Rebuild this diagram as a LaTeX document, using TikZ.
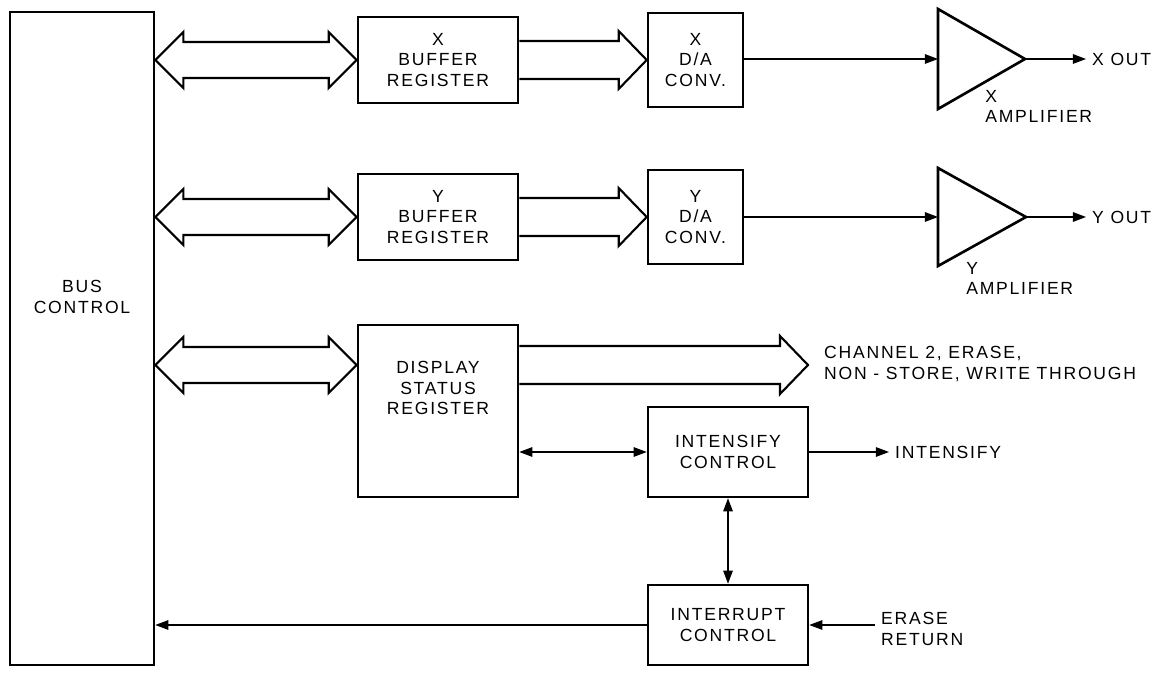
\documentclass[tikz,border=0pt]{standalone}
\usepackage{fontspec}
\setmainfont{Liberation Sans}[LetterSpace=10]
\usetikzlibrary{arrows.meta,calc}

% wide bus arrow with two heads, tip to tip
\newcommand{\dbus}[2]{%
  \draw[bus] (#1) -- ++(28,-28) -- ++(0,10) -- ($(#2)+(-28,-18)$) -- ++(0,-10)
    -- (#2) -- ++(-28,28) -- ++(0,-10) -- ($(#1)+(28,18)$) -- ++(0,10) -- cycle;}
% wide bus arrow with one head
\newcommand{\sbus}[2]{%
  \draw[bus] ($(#1)+(0,-19)$) -- ($(#2)+(-28,-19)$) -- ++(0,-10) -- (#2)
    -- ++(-28,29) -- ++(0,-10) -- ($(#1)+(0,19)$);}

\begin{document}
\begin{tikzpicture}[x=0.02cm, y=-0.02cm,
  every node/.style={font=\fontsize{10}{11.5}\selectfont, align=center},
  box/.style={draw, line width=1.5pt, inner sep=0pt},
  bus/.style={line width=1.2pt, line join=miter},
  sig/.style={line width=0.6pt, -{Triangle[length=7.5pt,width=5.5pt]}},
  sig2/.style={line width=0.6pt, {Triangle[length=7.5pt,width=5.5pt]}-{Triangle[length=7.5pt,width=5.5pt]}}]
\useasboundingbox (0,0) rectangle (1159,675);

% blocks
\node[box, minimum width=2.88cm, minimum height=13.06cm] (bus) at (82,338.5) {};
\node (buslbl) at (82,297) {BUS\\CONTROL};
\node[box, minimum width=3.2cm, minimum height=1.72cm] (xbuf) at (438,60) {X\\BUFFER\\REGISTER};
\node[box, minimum width=1.9cm, minimum height=1.88cm] (xda) at (695.5,60) {X\\D/A\\CONV.};
\node[box, minimum width=3.2cm, minimum height=1.72cm] (ybuf) at (438,217) {Y\\BUFFER\\REGISTER};
\node[box, minimum width=1.9cm, minimum height=1.88cm] (yda) at (695.5,217) {Y\\D/A\\CONV.};
\node[box, minimum width=3.2cm, minimum height=3.44cm] (dsr) at (438,411) {};
\node (dsrlbl) at (438,388) {DISPLAY\\STATUS\\REGISTER};
\node[box, minimum width=3.2cm, minimum height=1.8cm] (intens) at (728,452) {INTENSIFY\\CONTROL};
\node[box, minimum width=3.2cm, minimum height=1.6cm] (intr) at (728,625) {INTERRUPT\\CONTROL};

% amplifiers
\draw[line width=1.5pt, line join=miter] (938,9) -- (1025,59) -- (938,109) -- cycle;
\coordinate (xampin) at (938,59);
\coordinate (xampout) at (1025,59);
\draw[line width=1.5pt, line join=miter] (938,168) -- (1026,217) -- (938,266) -- cycle;
\coordinate (yampin) at (938,217);
\coordinate (yampout) at (1026,217);
\node[anchor=north west, align=left, inner sep=0pt] (xamplbl) at (985,90) {X\\AMPLIFIER};
\node[anchor=north west, align=left, inner sep=0pt] (yamplbl) at (966,262) {Y\\AMPLIFIER};

% outside labels
\node[anchor=west] (xout) at (1086,59) {X OUT};
\node[anchor=west] (yout) at (1086,217) {Y OUT};
\node[anchor=west, align=left] (chlbl) at (818,364) {CHANNEL 2, ERASE,\\NON - STORE, WRITE THROUGH};
\node[anchor=west] (intlbl) at (889,452) {INTENSIFY};
\node[anchor=west, align=left] (eret) at (875,629) {ERASE\\RETURN};

% bus arrows
\coordinate (xbusl) at (bus.east |- xbuf.west);
\coordinate (ybusl) at (bus.east |- ybuf.west);
\coordinate (dbusr) at (dsr.west |- 0,365);
\coordinate (dbusl) at (bus.east |- dbusr);
\dbus{xbusl}{xbuf.west}
\dbus{ybusl}{ybuf.west}
\dbus{dbusl}{dbusr}
\coordinate (xdal) at (xda.west |- xbuf.east);
\coordinate (ydal) at (yda.west |- ybuf.east);
\sbus{xbuf.east}{xdal}
\sbus{ybuf.east}{ydal}
\coordinate (chl) at (dsr.east |- dbusr);
\coordinate (chr) at (808,365);
\sbus{chl}{chr}

% signal lines
\draw[sig] (xda.east |- xampin) -- (xampin);
\draw[sig] (xampout) -- (xout.west);
\draw[sig] (yda.east) -- (yampin);
\draw[sig] (yampout) -- (yout.west);
\draw[sig2] (dsr.east |- intens.west) -- (intens.west);
\draw[sig] (intens.east) -- (intlbl.west);
\draw[sig2] (intens.south) -- (intr.north);
\draw[sig] (intr.west) -- (bus.east |- intr.west);
\draw[sig] (eret.west |- intr.east) -- (intr.east);
\end{tikzpicture}
\end{document}
